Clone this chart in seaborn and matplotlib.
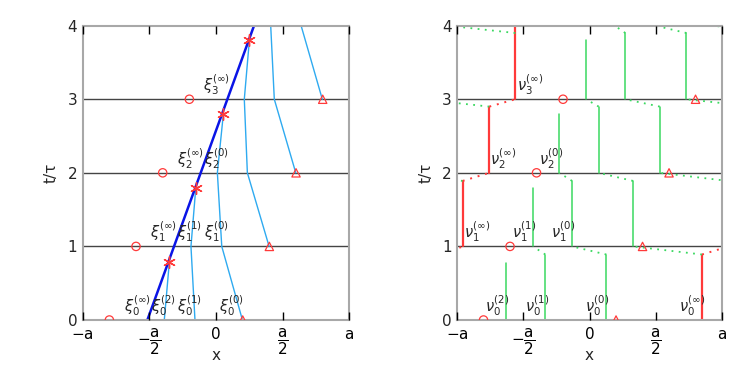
import matplotlib
matplotlib.use("Agg")
import matplotlib.pyplot as plt
import pandas as pd
import seaborn as sns

# time levels (t / tau) where the horizontal lines sit
levels = [0, 1, 2, 3]
circle_x = [-0.80, -0.60, -0.40, -0.20]
triangle_x = [0.20, 0.40, 0.60, 0.80]

# ---- left panel: characteristics xi
blue_x = [-0.515, 0.285]
blue_t = [0.0, 4.0]
star_x = [-0.35, -0.152, 0.055, 0.25]
star_t = [0.79, 1.79, 2.80, 3.80]
char_x = [[-0.388, -0.35],
          [-0.158, -0.188, -0.152],
          [0.198, 0.043, 0.010, 0.055],
          [0.398, 0.235, 0.212, 0.25],
          [0.598, 0.437, 0.41],
          [0.797, 0.638]]
char_t = [[0, 0.79],
          [0, 1, 1.79],
          [0, 1, 2, 2.8],
          [1, 2, 3, 3.8],
          [2, 3, 4],
          [3, 4]]
xi_text = [r'$\xi_0^{(\infty)}$', r'$\xi_0^{(2)}$', r'$\xi_0^{(1)}$', r'$\xi_0^{(0)}$',
           r'$\xi_1^{(\infty)}$', r'$\xi_1^{(1)}$', r'$\xi_1^{(0)}$',
           r'$\xi_2^{(\infty)}$', r'$\xi_2^{(0)}$',
           r'$\xi_3^{(\infty)}$']
xi_x = [-0.69, -0.49, -0.295, 0.025, -0.495, -0.295, -0.09, -0.295, -0.09, -0.10]
xi_t = [0, 0, 0, 0, 1, 1, 1, 2, 2, 3]

# ---- right panel: nu segments
red_x = [0.849, -0.957, -0.756, -0.560]
red_top = [0.89, 1.89, 2.90, 4.0]
green_x = [[-0.628, -0.334, 0.127],
           [-0.426, -0.132, 0.328],
           [-0.228, 0.069, 0.530],
           [-0.026, 0.270, 0.731]]
green_top = [[0.78, 0.89, 0.89],
             [1.79, 1.89, 1.89],
             [2.80, 2.90, 2.90],
             [3.80, 3.90, 3.90]]
# dotted jumps: (x at top of segment, t top) -> (x at next level, next level)
gdot_x0 = [-0.334, 0.127, 0.849, -0.132, 0.328, -0.957, 0.069, 0.530, -0.756, 0.270, 0.731, -0.560]
gdot_t0 = [0.89, 0.89, 0.89, 1.89, 1.89, 1.89, 2.90, 2.90, 2.90, 3.90, 3.90, 3.90]
gdot_x1 = [-0.426, -0.132, 0.328, -0.228, 0.069, -1.470, -0.026, 0.270, -1.269, 0.19, 0.497, -1.07]
gdot_t1 = [1, 1, 1, 2, 2, 2, 3, 3, 3, 4, 4, 4]
rdot_x0 = [0.849, -0.957, -0.756]
rdot_t0 = [0.89, 1.89, 2.90]
rdot_x1 = [1.049, -0.756, -0.560]
rdot_t1 = [1, 2, 3]
nu_text = [r'$\nu_0^{(2)}$', r'$\nu_0^{(1)}$', r'$\nu_0^{(0)}$', r'$\nu_0^{(\infty)}$',
           r'$\nu_1^{(\infty)}$', r'$\nu_1^{(1)}$', r'$\nu_1^{(0)}$',
           r'$\nu_2^{(\infty)}$', r'$\nu_2^{(0)}$',
           r'$\nu_3^{(\infty)}$']
nu_x = [-0.787, -0.489, -0.032, 0.673, -0.949, -0.585, -0.288, -0.749, -0.383, -0.547]
nu_t = [0, 0, 0, 0, 1, 1, 1, 2, 2, 3]

RED = '#ff3a3a'
LBLUE = '#2eaaf0'
GREEN = '#3ad860'


def segs(xs, ts):
    rows = []
    for i, (xx, tt) in enumerate(zip(xs, ts)):
        for a, b in zip(xx, tt):
            rows.append({'seg': i, 'x': a, 't': b})
    return pd.DataFrame(rows)


def wrapped(x0, t0, x1, t1):
    # a jump leaving the periodic box re-enters on the other side
    xs, ts = [], []
    for a, b, c, d in zip(x0, t0, x1, t1):
        xs.append([a, c])
        ts.append([b, d])
        if c > 1:
            xs.append([a - 2, c - 2])
            ts.append([b, d])
        elif c < -1:
            xs.append([a + 2, c + 2])
            ts.append([b, d])
    return segs(xs, ts)


def frame(ax):
    ax.set_xlim(-1, 1)
    ax.set_ylim(0, 4)
    ax.set_xticks([-1, -0.5, 0, 0.5, 1])
    ax.set_xticklabels([r'$-\mathrm{a}$', r'$-\dfrac{\mathrm{a}}{2}$', '0',
                        r'$\dfrac{\mathrm{a}}{2}$', r'$\mathrm{a}$'], fontsize=11)
    ax.set_yticks([0, 1, 2, 3, 4])
    ax.set_yticklabels(['0', '1', '2', '3', '4'], fontsize=11)
    ax.tick_params(axis='y', length=0, pad=4)
    ax.tick_params(axis='x', which='major', bottom=True, top=True, direction='in',
                   length=6, width=1.0, color='black', pad=5)
    for tk in ax.xaxis.get_major_ticks():
        tk.tick1line.set_visible(True)
        tk.tick2line.set_visible(True)
        tk.tick1line.set_zorder(10)
        tk.tick2line.set_zorder(10)
    ax.xaxis.set_zorder(10)
    for s in ax.spines.values():
        s.set_color('#a8a8a8')
        s.set_linewidth(1.5)
    for lv in levels[1:]:
        ax.axhline(lv, color='#444444', lw=1.0, zorder=1)
    ax.set_xlabel('x', fontsize=11)
    ax.xaxis.set_label_coords(0.5, -0.095)
    ax.set_ylabel('t/τ', fontsize=11)
    ax.yaxis.set_label_coords(-0.09, 0.5)


def markers(ax):
    sns.scatterplot(x=circle_x, y=levels, marker='o', s=36, fc='none', ec=RED,
                    linewidth=0.9, ax=ax, zorder=5)
    sns.scatterplot(x=triangle_x, y=levels, marker='^', s=36, fc='none', ec=RED,
                    linewidth=0.9, ax=ax, zorder=5)


sns.set_style('ticks')
plt.rcParams['font.family'] = ['DejaVu Sans']
plt.rcParams['mathtext.fontset'] = 'dejavusans'
plt.rcParams['xtick.bottom'] = True
plt.rcParams['xtick.top'] = True
plt.rcParams['xtick.direction'] = 'in'
plt.rcParams['xtick.major.size'] = 6
plt.rcParams['xtick.major.width'] = 1.0
plt.rcParams['xtick.color'] = 'black'
plt.rcParams['axes.axisbelow'] = False

fig = plt.figure(figsize=(7.47, 3.74), dpi=100)
ax1 = fig.add_axes([0.1107, 0.1444, 0.357, 0.787])
ax2 = fig.add_axes([0.6118, 0.1444, 0.3548, 0.787])

# left panel
sns.lineplot(data=segs(char_x, char_t), x='x', y='t', units='seg', estimator=None,
             sort=False, color=LBLUE, lw=1.0, ax=ax1, legend=False)
sns.lineplot(x=blue_x, y=blue_t, sort=False, estimator=None, color='#0a14e6', lw=1.8, ax=ax1)
sns.scatterplot(x=star_x, y=star_t, marker=(6, 2, 0), s=70, color=RED, linewidth=1.0,
                ax=ax1, zorder=6)
markers(ax1)
for txt, xx, tt in zip(xi_text, xi_x, xi_t):
    ax1.text(xx, tt + 0.03, txt, ha='left', va='bottom', fontsize=10.5)
frame(ax1)

# right panel
g_rows_x = [[gx, gx] for row in green_x for gx in row]
g_rows_t = [[lv, top] for lv, row in zip(levels, green_top) for top in row]
sns.lineplot(data=segs(g_rows_x, g_rows_t), x='x', y='t', units='seg', estimator=None,
             sort=False, color=GREEN, lw=1.1, ax=ax2, legend=False)
sns.lineplot(data=segs([[r, r] for r in red_x], [[lv, top] for lv, top in zip(levels, red_top)]),
             x='x', y='t', units='seg', estimator=None, sort=False, color=RED, lw=1.6,
             ax=ax2, legend=False)
sns.lineplot(data=wrapped(gdot_x0, gdot_t0, gdot_x1, gdot_t1), x='x', y='t', units='seg',
             estimator=None, sort=False, color=GREEN, lw=1.3, linestyle=(0, (1, 3)),
             ax=ax2, legend=False)
sns.lineplot(data=wrapped(rdot_x0, rdot_t0, rdot_x1, rdot_t1), x='x', y='t', units='seg',
             estimator=None, sort=False, color=RED, lw=1.4, linestyle=(0, (1, 3)),
             ax=ax2, legend=False)
markers(ax2)
for txt, xx, tt in zip(nu_text, nu_x, nu_t):
    ax2.text(xx, tt + 0.03, txt, ha='left', va='bottom', fontsize=10.5)
frame(ax2)

fig.savefig('out.png', dpi=100)
